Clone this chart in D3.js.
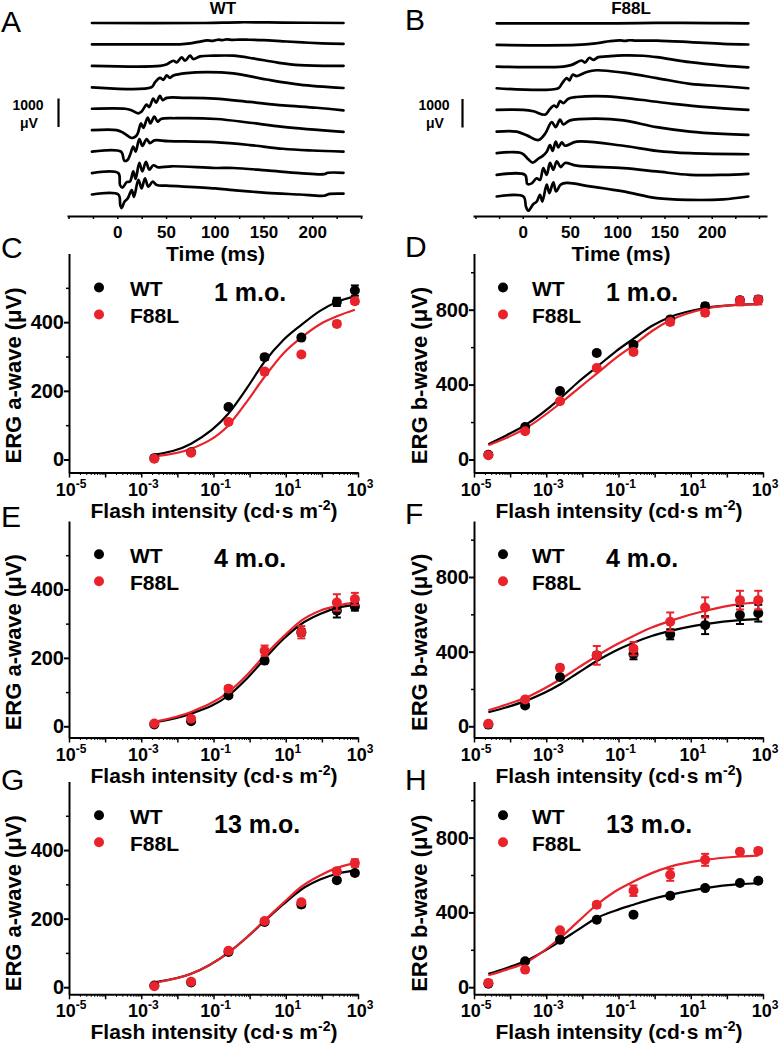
<!DOCTYPE html>
<html><head><meta charset="utf-8">
<script src="https://cdn.jsdelivr.net/npm/d3@7"></script>
<style>
body{margin:0;background:#fff}
svg{display:block}
text{font-family:"Liberation Sans",Arial,Helvetica,sans-serif}
</style>
</head><body>
<svg id="chart" width="779" height="1049"></svg>
<script>
// ================= DATA =================
// ERG traces: [time (ms), amplitude (µV)], one array per flash intensity (dim -> bright)
const wtTraces = [
  [[-26,0],[90,0],[125,25],[170,15],[232,0]],
  [[-26,0],[50,0],[64,5],[75,40],[85,100],[92,140],[98,125],[103,165],[108,150],[112,175],[118,160],[125,170],[135,165],[150,150],[170,110],[190,70],[210,40],[232,20]],
  [[-26,0],[44,0],[51,60],[57.5,180],[61,120],[66,300],[69.5,180],[74.6,360],[78,240],[85,335],[98.5,357],[119,357],[139.5,262],[163.5,120],[187,24],[232,0]],
  [[-26,0],[35,0],[38.7,178],[43.8,333],[47.2,262],[50.7,416],[54,333],[57.5,416],[71,500],[92,535],[119,488],[153,274],[187,95],[232,-24]],
  [[-26,0],[8,0],[15,-60],[21.6,-160],[25,-95],[30.1,143],[32.8,60],[36.9,357],[39.7,214],[43.8,452],[46.5,298],[50.7,381],[69.4,381],[100,357],[136,238],[170,119],[204.5,36],[232,-60]],
  [[-26,0],[-0.6,0],[6,-90],[14.8,-274],[18.2,-238],[20.9,-119],[24.3,238],[26.7,83],[31.2,440],[33.9,238],[38,476],[41.4,298],[44.8,393],[60,420],[102,393],[136,262],[170,119],[232,-60]],
  [[-26,0],[3.8,0],[7.2,-321],[10.3,-298],[13,-119],[16.4,178],[18.8,0],[22.6,440],[25.7,202],[30.1,440],[33.5,298],[38,393],[52.3,369],[100,330],[136,230],[170,100],[200,40],[232,0]],
  [[-26,0],[1,0],[2.8,-417],[5.2,-512],[9.6,-321],[13,-298],[16.4,60],[18.8,-202],[22.6,357],[25.7,60],[29.4,393],[32.8,119],[36.9,274],[42,202],[55.8,238],[100,178],[119,178],[153,95],[187,0],[212,-40],[216,10],[232,10]],
  [[-26,0],[1,0],[3.1,-381],[4.5,-476],[7.2,-262],[10.6,-143],[14.8,155],[17.1,-83],[21.6,512],[25,214],[28.4,571],[31.8,274],[36.3,452],[40.4,333],[50.7,309],[100,214],[119,155],[153,60],[187,0],[212,-45],[218,20],[232,30]]
];
const f88lTraces = [
  [[-27.5,0],[100,0],[140,15],[200,5],[238.7,0]],
  [[-27.5,0],[57,0],[78,60],[92,130],[103,160],[108,140],[113,165],[120,150],[142,150],[177,100],[212,40],[238.7,15]],
  [[-27.5,0],[43,0],[51.9,60],[62.4,214],[65.9,143],[70.5,309],[74.7,238],[80,333],[88.9,357],[106.5,393],[127.6,381],[141.8,333],[177,155],[212.3,36],[238.7,-24]],
  [[-27.5,0],[37.7,0],[41.3,155],[46.6,357],[49.4,274],[52.9,476],[57.1,428],[67.7,571],[78.3,631],[106.5,547],[141.8,357],[177,155],[212.3,71],[238.7,0]],
  [[-27.5,0],[0.7,0],[11.3,-48],[23.6,-167],[28.9,36],[33.1,155],[36,95],[39.5,309],[43,238],[48.3,393],[57.1,452],[88.9,476],[124.1,357],[159.4,214],[194.7,95],[238.7,0]],
  [[-27.5,0],[-6.3,0],[5,-143],[16.6,-298],[23.6,-83],[30.7,333],[34.9,155],[39.5,417],[43,250],[50.1,393],[78.3,452],[106.5,393],[141.8,155],[177,0],[212.3,-83],[238.7,-119]],
  [[-27.5,0],[-1.1,0],[5.9,-214],[10.6,-333],[16.6,-190],[21.2,-95],[25.4,48],[28.9,286],[31.7,83],[34.9,405],[37.7,202],[41.3,381],[44.8,262],[57.1,405],[106.5,262],[141.8,83],[177,0],[238.7,-36]],
  [[-27.5,0],[2.4,0],[4.9,-321],[9.5,-298],[14.8,-119],[18.3,-179],[21.8,238],[25.4,0],[28.9,417],[32.4,179],[36,476],[40.2,274],[44.8,417],[57.1,321],[106.5,238],[141.8,119],[177,0],[212.3,0],[238.7,36]],
  [[-27.5,0],[0.7,0],[3.5,-357],[5.9,-500],[11.3,-262],[14.8,-179],[18.3,60],[20.8,-179],[25.4,417],[28.2,119],[32.4,500],[35.3,179],[40.2,417],[46.6,476],[71.2,357],[106.5,179],[141.8,-60],[177,-119],[212.3,-100],[238.7,0]]
];
const traceTitles = ["WT", "F88L"];
const scaleBarValue = 1000;          // µV
const timeTicks = [-50,-25,0,25,50,75,100,125,150,175,200,225,250];
const timeTickLabels = [0,50,100,150,200];

// flash intensities (cd·s m^-2)
const intensityA = [0.0023, 0.024, 0.26, 2.6, 27, 260, 820];
const intensityB = [0.000025, 0.00026, 0.0024, 0.025, 0.26, 2.7, 25, 230, 740];
const fitIntensityA = [0.0023, 0.024, 0.26, 0.83, 2.6, 8.6, 27, 89, 260, 820];
const fitIntensityB = [0.000025, 0.00008, 0.00026, 0.0024, 0.0077, 0.025, 0.08, 0.26, 0.83, 2.7, 25, 230, 740];
const xTickExponents = [-5,-4,-3,-2,-1,0,1,2,3];
const xTickLabelExponents = [-5,-3,-1,1,3];

// a-wave, 1 month
const aWave1moWT      = [4, 21, 153, 298, 355, 459, 492];
const aWave1moWTErr   = [2, 3, 5, 8, 6, 12, 15];
const aWave1moF88L    = [2, 20, 109, 256, 306, 395, 461];
const aWave1moF88LErr = [3, 3, 5, 8, 6, 7, 8];
const aWave1moWTFit   = [14, 46, 134, 207, 285, 348, 392, 433, 459, 475];
const aWave1moF88LFit = [9, 31, 100, 168, 241, 309, 355, 394, 417, 436];
// b-wave, 1 month
const bWave1moWT      = [25, 174, 366, 569, 613, 748, 818, 850, 855];
const bWave1moWTErr   = [5, 8, 10, 12, 12, 14, 16, 16, 16];
const bWave1moF88L    = [23, 151, 311, 489, 574, 734, 784, 845, 850];
const bWave1moF88LErr = [5, 8, 10, 12, 12, 14, 16, 22, 22];
const bWave1moWTFit   = [82, 130, 183, 325, 414, 494, 574, 645, 713, 761, 809, 827, 830];
const bWave1moF88LFit = [76, 116, 165, 299, 379, 459, 539, 610, 685, 743, 805, 827, 830];
// a-wave, 4 months
const aWave4moWT      = [5, 15, 90, 192, 275, 338, 350];
const aWave4moWTErr   = [3, 3, 5, 6, 10, 20, 12];
const aWave4moF88L    = [8, 22, 110, 221, 275, 362, 372];
const aWave4moF88LErr = [3, 4, 8, 15, 18, 24, 18];
const aWave4moWTFit   = [11, 37, 90, 139, 197, 255, 299, 328, 346, 354];
const aWave4moF88LFit = [13, 42, 100, 149, 207, 262, 309, 338, 352, 362];
// b-wave, 4 months
const bWave4moWT      = [9, 111, 264, 380, 386, 493, 542, 596, 606];
const bWave4moWTErr   = [5, 10, 10, 15, 27, 27, 48, 48, 45];
const bWave4moF88L    = [13, 144, 314, 380, 416, 560, 637, 676, 676];
const bWave4moF88LErr = [5, 10, 15, 50, 36, 50, 54, 50, 50];
const bWave4moWTFit   = [75, 102, 135, 224, 287, 350, 404, 448, 484, 511, 547, 569, 574];
const bWave4moF88LFit = [86, 117, 152, 251, 314, 377, 434, 484, 529, 565, 619, 655, 664];
// a-wave, 13 months
const aWave13moWT      = [5, 14, 103, 190, 241, 312, 333];
const aWave13moWTErr   = [2, 2, 4, 5, 8, 6, 6];
const aWave13moF88L    = [3, 16, 106, 193, 248, 338, 362];
const aWave13moF88LErr = [3, 3, 4, 6, 6, 9, 11];
const aWave13moWTFit   = [14, 39, 101, 145, 193, 242, 285, 314, 331, 341];
const aWave13moF88LFit = [13, 39, 101, 145, 195, 246, 293, 326, 348, 362];
// b-wave, 13 months
const bWave13moWT      = [18, 139, 254, 361, 388, 489, 530, 557, 569];
const bWave13moWTErr   = [3, 6, 6, 8, 8, 10, 10, 10, 10];
const bWave13moF88L    = [23, 94, 304, 441, 516, 601, 681, 725, 729];
const bWave13moF88LErr = [5, 10, 12, 15, 28, 32, 32, 12, 12];
const bWave13moWTFit   = [71, 103, 139, 245, 308, 370, 409, 441, 471, 494, 530, 551, 556];
const bWave13moF88LFit = [64, 94, 130, 263, 352, 441, 512, 565, 610, 645, 681, 699, 704];

const seriesNames = ["WT", "F88L"];
const ages = ["1 m.o.", "4 m.o.", "13 m.o."];

// ================= LAYOUT / STYLE =================
const BLACK = "#000000", RED = "#e8232b";
const svg = d3.select("#chart");

function boldText(g, x, y, str, size, anchor) {
  return g.append("text").attr("x", x).attr("y", y).attr("font-size", size)
    .attr("font-weight", "bold").attr("text-anchor", anchor || "start").attr("fill", "#000").text(str);
}

// ---------- Trace panels A, B ----------
const tracePanels = [
  {letter: "A", letterX: 1, letterY: 32, title: traceTitles[0], titleX: 223, titleY: 14, traces: wtTraces,
   tDomain: [-51.6, 251], xRange: [67, 362], baseRange: [23, 194.5], axisY: 216,
   barX: 58.5, barY: 98.5, barLabelX: 28},
  {letter: "B", letterX: 405, letterY: 30, title: traceTitles[1], titleX: 631, titleY: 14, traces: f88lTraces,
   tDomain: [-52.6, 258.5], xRange: [473, 767], baseRange: [23.3, 196.5], axisY: 216,
   barX: 462.5, barY: 99, barLabelX: 434}
];

tracePanels.forEach(p => {
  const g = svg.append("g");
  const x = d3.scaleLinear().domain(p.tDomain).range(p.xRange);
  const base = d3.scalePoint().domain(d3.range(p.traces.length)).range(p.baseRange);
  const amp = d3.scaleLinear().domain([0, 1000]).range([0, -28.5]);
  const line = d3.line().x(d => x(d[0])).y(d => amp(d[1])).curve(d3.curveCatmullRom.alpha(0.5));
  p.traces.forEach((tr, i) => {
    g.append("path").attr("transform", `translate(0,${base(i)})`).attr("d", line(tr))
      .attr("fill", "none").attr("stroke", BLACK).attr("stroke-width", 2.7)
      .attr("stroke-linejoin", "round").attr("stroke-linecap", "round");
  });
  const axis = d3.axisBottom(x).tickValues(timeTicks).tickSize(3).tickSizeOuter(0).tickPadding(7)
    .tickFormat(d => timeTickLabels.includes(d) ? String(d) : "");
  const ag = g.append("g").attr("transform", `translate(0,${p.axisY})`).call(axis);
  ag.select(".domain").attr("stroke-width", 2);
  ag.selectAll(".tick line").attr("stroke-width", 1.5);
  ag.selectAll(".tick text").attr("font-size", 17).attr("font-weight", "bold").attr("fill", "#000")
    .attr("font-family", '"Liberation Sans",Arial,sans-serif');
  boldText(g, (p.xRange[0] + p.xRange[1]) / 2 + 1, 261, "Time (ms)", 21, "middle");
  boldText(g, p.titleX, p.titleY, p.title, 17, "middle");
  g.append("line").attr("x1", p.barX).attr("x2", p.barX).attr("y1", p.barY)
    .attr("y2", p.barY - amp(scaleBarValue)).attr("stroke", BLACK).attr("stroke-width", 2.2);
  boldText(g, p.barLabelX, 110, String(scaleBarValue), 14, "middle");
  boldText(g, p.barLabelX + 1, 128, "\u03bcV", 14, "middle");
  g.append("text").attr("x", p.letterX).attr("y", p.letterY).attr("font-size", 30).text(p.letter);
});

// ---------- Dose-response panels C-H ----------
const cols = [
  {xRange: [69, 358], ylabelX: 21, letterX: 1, dotX: 99, textX: 130, ageX: 214, labelCx: 214, ymax: 600,
   majors: [0, 200, 400], minors: [100, 300, 500], ylabel: "ERG a-wave (\u03bcV)",
   intens: intensityA, fitI: fitIntensityA},
  {xRange: [474, 763], ylabelX: 427, letterX: 405, dotX: 503, textX: 532, ageX: 606, labelCx: 619, ymax: 1100,
   majors: [0, 400, 800], minors: [200, 600, 1000], ylabel: "ERG b-wave (\u03bcV)",
   intens: intensityB, fitI: fitIntensityB}
];
const rows = [
  {zero: 459.5, top: 253.5, axisY: 472.5, ageDY: -159, letterY: [258, 257]},
  {zero: 726.3, top: 521, axisY: 737.5, ageDY: -159, letterY: [527, 524]},
  {zero: 987.2, top: 781.5, axisY: 994.3, ageDY: -154, letterY: [790, 790]}
];
const dosePanels = [
  {letter: "C", col: 0, row: 0, age: ages[0], wt: aWave1moWT, wtErr: aWave1moWTErr, mu: aWave1moF88L, muErr: aWave1moF88LErr, wtFit: aWave1moWTFit, muFit: aWave1moF88LFit},
  {letter: "D", col: 1, row: 0, age: ages[0], wt: bWave1moWT, wtErr: bWave1moWTErr, mu: bWave1moF88L, muErr: bWave1moF88LErr, wtFit: bWave1moWTFit, muFit: bWave1moF88LFit},
  {letter: "E", col: 0, row: 1, age: ages[1], wt: aWave4moWT, wtErr: aWave4moWTErr, mu: aWave4moF88L, muErr: aWave4moF88LErr, wtFit: aWave4moWTFit, muFit: aWave4moF88LFit},
  {letter: "F", col: 1, row: 1, age: ages[1], wt: bWave4moWT, wtErr: bWave4moWTErr, mu: bWave4moF88L, muErr: bWave4moF88LErr, wtFit: bWave4moWTFit, muFit: bWave4moF88LFit},
  {letter: "G", col: 0, row: 2, age: ages[2], wt: aWave13moWT, wtErr: aWave13moWTErr, mu: aWave13moF88L, muErr: aWave13moF88LErr, wtFit: aWave13moWTFit, muFit: aWave13moF88LFit},
  {letter: "H", col: 1, row: 2, age: ages[2], wt: bWave13moWT, wtErr: bWave13moWTErr, mu: bWave13moF88L, muErr: bWave13moF88LErr, wtFit: bWave13moWTFit, muFit: bWave13moF88LFit}
];

dosePanels.forEach(p => {
  const c = cols[p.col], r = rows[p.row];
  const g = svg.append("g");
  const x = d3.scaleLog().domain([1e-5, 1e3]).range(c.xRange);
  const y0 = d3.scaleLinear().domain([0, c.ymax]).range([r.zero, r.top]);
  const y = d3.scaleLinear().domain([y0.invert(r.axisY), c.ymax]).range([r.axisY, r.top]);

  const yAx = d3.axisLeft(y).tickValues(c.majors).tickSize(5).tickPadding(0).tickSizeOuter(0);
  const yg = g.append("g").attr("transform", `translate(${c.xRange[0]},0)`).call(yAx);
  yg.select(".domain").attr("stroke-width", 2);
  yg.selectAll(".tick line").attr("stroke-width", 2);
  yg.selectAll(".tick text").attr("font-size", 20).attr("font-weight", "bold").attr("fill", "#000")
    .attr("font-family", '"Liberation Sans",Arial,sans-serif');
  const yMin = d3.axisLeft(y).tickValues(c.minors).tickSize(3).tickSizeOuter(0).tickFormat("");
  const ymg = g.append("g").attr("transform", `translate(${c.xRange[0]},0)`).call(yMin);
  ymg.select(".domain").remove();
  ymg.selectAll(".tick line").attr("stroke-width", 1.5);

  const majorVals = xTickExponents.map(e => Math.pow(10, e));
  const xAx = d3.axisBottom(x).tickValues(majorVals).tickSize(5).tickSizeOuter(0).tickFormat("");
  const xg = g.append("g").attr("transform", `translate(0,${r.axisY})`).call(xAx);
  xg.select(".domain").attr("stroke-width", 2);
  xg.selectAll(".tick line").attr("stroke-width", 1.5);
  const minorVals = [];
  xTickExponents.slice(0, -1).forEach(e => { for (let m = 2; m <= 9; m++) minorVals.push(m * Math.pow(10, e)); });
  const xMin = d3.axisBottom(x).tickValues(minorVals).tickSize(2.5).tickSizeOuter(0).tickFormat("");
  const xmg = g.append("g").attr("transform", `translate(0,${r.axisY})`).call(xMin);
  xmg.select(".domain").remove();
  xmg.selectAll(".tick line").attr("stroke-width", 1);
  xTickLabelExponents.forEach(e => {
    const t = g.append("text").attr("x", x(Math.pow(10, e)) + 2).attr("y", r.axisY + 23)
      .attr("text-anchor", "middle").attr("font-weight", "bold").attr("font-size", 18).attr("fill", "#000");
    t.append("tspan").text("10");
    t.append("tspan").attr("dy", -8).attr("font-size", 12).text(String(e));
  });

  const xl = g.append("text").attr("x", c.labelCx).attr("y", r.axisY + 45).attr("text-anchor", "middle")
    .attr("font-weight", "bold").attr("font-size", 21).attr("fill", "#000");
  xl.append("tspan").text("Flash intensity (cd\u00b7s m");
  xl.append("tspan").attr("dy", -8).attr("font-size", 14).text("-2");
  xl.append("tspan").attr("dy", 8).text(")");
  g.append("text").attr("transform", `translate(${c.ylabelX},${r.zero - 84}) rotate(-90)`)
    .attr("text-anchor", "middle").attr("font-weight", "bold").attr("font-size", 22).attr("fill", "#000").text(c.ylabel);

  const fitLine = d3.line().x((d, i) => x(c.fitI[i])).y(d => y(d)).curve(d3.curveMonotoneX);
  g.append("path").attr("d", fitLine(p.wtFit)).attr("fill", "none").attr("stroke", BLACK).attr("stroke-width", 2.2);
  g.append("path").attr("d", fitLine(p.muFit)).attr("fill", "none").attr("stroke", RED).attr("stroke-width", 2.2);

  [[p.wt, p.wtErr, BLACK], [p.mu, p.muErr, RED]].forEach(([vals, errs, col]) => {
    vals.forEach((v, i) => {
      const cx = x(c.intens[i]);
      const e = errs[i];
      g.append("line").attr("x1", cx).attr("x2", cx).attr("y1", y(v - e)).attr("y2", y(v + e))
        .attr("stroke", col).attr("stroke-width", 2);
      [v - e, v + e].forEach(w => g.append("line").attr("x1", cx - 4).attr("x2", cx + 4)
        .attr("y1", y(w)).attr("y2", y(w)).attr("stroke", col).attr("stroke-width", 2));
    });
    g.selectAll(null).data(vals).enter().append("circle")
      .attr("cx", (d, i) => x(c.intens[i])).attr("cy", d => y(d)).attr("r", 5).attr("fill", col);
  });

  const ly = r.zero - 172;
  g.append("circle").attr("cx", c.dotX).attr("cy", ly).attr("r", 5).attr("fill", BLACK);
  g.append("circle").attr("cx", c.dotX).attr("cy", ly + 27).attr("r", 5).attr("fill", RED);
  boldText(g, c.textX, ly + 8.5, seriesNames[0], 21);
  boldText(g, c.textX, ly + 35.5, seriesNames[1], 21);
  boldText(g, c.ageX, r.zero + r.ageDY, p.age, 25);

  g.append("text").attr("x", c.letterX).attr("y", r.letterY[p.col]).attr("font-size", 30).text(p.letter);
});
</script>
</body></html>
